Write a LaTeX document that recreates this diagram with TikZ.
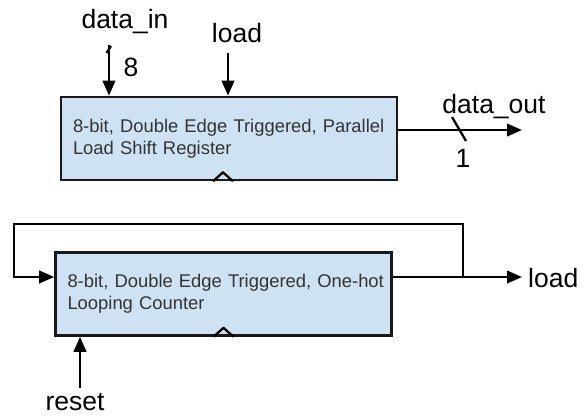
\documentclass[tikz,border=0pt]{standalone}
\usepackage{fontspec}
\setmainfont{Liberation Sans}
\usetikzlibrary{arrows.meta,positioning,calc}
\definecolor{boxfill}{HTML}{CFE2F3}
\definecolor{boxtext}{HTML}{333333}
\tikzset{>={Triangle[length=15pt,width=12.5pt]}}
\tikzset{blk/.style={draw=black!90,line width=2.6pt,fill=boxfill,minimum width=336pt,minimum height=83pt,
  text width=312pt,align=left,inner sep=0pt,text=boxtext,font=\fontsize{18.4}{22}\selectfont}}
\tikzset{wire/.style={line width=2.3pt}}
\tikzset{lbl/.style={inner sep=0pt,font=\fontsize{26.5}{30}\selectfont}}
\tikzset{clk/.style={line width=2.3pt,line join=round}}

\begin{document}
\begin{tikzpicture}[x=1pt,y=-1pt]
    \useasboundingbox (0,0) rectangle (584,417);
    \node[blk] (SR) at (229,138.5) {\raisebox{-3pt}{8-bit, Double Edge Triggered, Parallel}\\\raisebox{-3pt}{Load Shift Register}};
    \node[blk] (CT) at (223.5,294) {\raisebox{-3pt}{8-bit, Double Edge Triggered, One-hot}\\\raisebox{-3pt}{Looping Counter}};
    % clock marks
    \draw[clk] ($(SR.south)+(-16,0)$) -- ++(10,-9) -- ++(10,9);
    \draw[clk] ($(CT.south)+(-10,0)$) -- ++(10,-9) -- ++(10,9);
    % inputs of the shift register
    \coordinate (din) at (109,45);
    \coordinate (ld) at (228,53);
    \draw[wire,->] (din) -- (din |- SR.north);
    \draw[wire] (106.5,53) -- (111,46);
    \draw[wire,->] (ld) -- (ld |- SR.north);
    \node[lbl] (Ldin) at (125,22) {data\_in};
    \node[lbl] (L8) at (131,67) {8};
    \node[lbl] (Lld) at (237,33) {load};
    % output
    \coordinate (dout) at (522,130);
    \draw[wire,->] (dout -| SR.east) -- (dout);
    \draw[wire] (452,117) -- (466,141);
    \node[lbl] (Ldout) at (494,107) {data\_out};
    \node[lbl] (L1) at (463,158) {1};
    % counter with loop back
    \coordinate (fb) at (463,277);
    \coordinate (lp) at (14,224);
    \coordinate (ldo) at (522,277);
    \draw[wire,->] (fb -| CT.east) -- (ldo);
    \draw[wire,->] (fb) |- (lp) |- (CT.west |- fb);
    \node[lbl,anchor=west] (Lldo) at (528,278) {load};
    \coordinate (rst) at (80,388);
    \draw[wire,->] (rst) -- (rst |- CT.south);
    \node[lbl] (Lrst) at (75,402) {reset};
\end{tikzpicture}
\end{document}
